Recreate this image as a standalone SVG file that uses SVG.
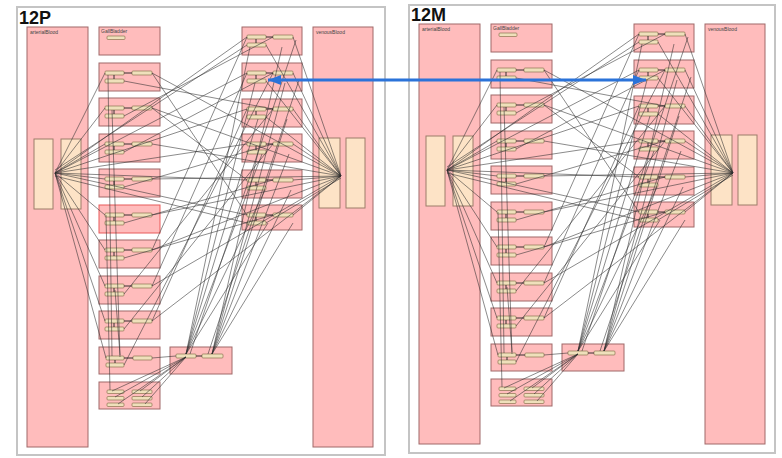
<svg xmlns="http://www.w3.org/2000/svg" width="782" height="458" viewBox="0 0 782 458">
<style>
.frame{fill:#fff;stroke:#c4c4c4;stroke-width:2}
.comp{fill:#ffbcbc;stroke:#a06868;stroke-width:1}
.hi{stroke:#e85a5a}
.big{fill:#fde3c6;stroke:#9c7c68;stroke-width:1}
.sm{fill:#efe0bb;stroke:#8c7250;stroke-width:0.7}
.lbl{font-family:"Liberation Sans",Arial,sans-serif;font-size:5px;fill:#444}
.title{font-family:"Liberation Sans",Arial,sans-serif;font-size:18px;font-weight:bold;fill:#111}
.cn{fill:none;stroke:#2e2e2e;stroke-width:0.7;stroke-opacity:0.8}
.cn2{fill:none;stroke:#222;stroke-width:0.9}
</style>
<defs>
<marker id="bluehead" markerUnits="userSpaceOnUse" markerWidth="13" markerHeight="10" viewBox="0 0 13 10" refX="13" refY="5" orient="auto-start-reverse">
<path d="M0,0 L13,5 L0,10 z" fill="#2b73d9"/>
</marker>
</defs>

<!-- ============ Panel 12P ============ -->
<g id="panel-12P">
<rect class="frame" x="17" y="7" width="368" height="448"/>
<text class="title" x="19" y="24">12P</text>
<g id="p-arterial"><rect class="comp" x="27" y="27" width="61" height="420"/><rect class="big" x="34" y="139" width="19" height="70"/><rect class="big" x="61" y="139" width="20" height="70"/><text class="lbl" x="30" y="34">arterialBlood</text></g>
<g id="p-venous"><rect class="comp" x="313" y="27" width="60" height="420"/><rect class="big" x="319" y="138" width="21" height="70"/><rect class="big" x="346" y="138" width="19" height="70"/><text class="lbl" x="316" y="34">venousBlood</text></g>
<g id="p-gall"><rect class="comp" x="99" y="27" width="61" height="28"/><rect class="sm" x="107" y="36" width="18" height="3.5" rx="1"/><text class="lbl" x="101" y="33">GallBladder</text></g>
<g id="p-m1"><rect class="comp" x="99" y="63" width="61" height="28"/><rect class="sm" x="105" y="71" width="19" height="4" rx="1"/><rect class="sm" x="132" y="71" width="20" height="4" rx="1"/><rect class="sm" x="105" y="79" width="19" height="4" rx="1"/></g>
<g id="p-m2"><rect class="comp" x="99" y="98" width="61" height="28"/><rect class="sm" x="105" y="106" width="19" height="4" rx="1"/><rect class="sm" x="132" y="106" width="20" height="4" rx="1"/><rect class="sm" x="105" y="114" width="19" height="4" rx="1"/></g>
<g id="p-m3"><rect class="comp" x="99" y="134" width="61" height="28"/><rect class="sm" x="105" y="142" width="19" height="4" rx="1"/><rect class="sm" x="132" y="142" width="20" height="4" rx="1"/><rect class="sm" x="105" y="150" width="19" height="4" rx="1"/></g>
<g id="p-m4"><rect class="comp" x="99" y="169" width="61" height="28"/><rect class="sm" x="105" y="177" width="19" height="4" rx="1"/><rect class="sm" x="132" y="177" width="20" height="4" rx="1"/><rect class="sm" x="105" y="185" width="19" height="4" rx="1"/></g>
<g id="p-m5"><rect class="comp hi" x="99" y="205" width="61" height="28"/><rect class="sm" x="105" y="213" width="19" height="4" rx="1"/><rect class="sm" x="132" y="213" width="20" height="4" rx="1"/><rect class="sm" x="105" y="221" width="19" height="4" rx="1"/></g>
<g id="p-m6"><rect class="comp" x="99" y="240" width="61" height="28"/><rect class="sm" x="105" y="248" width="19" height="4" rx="1"/><rect class="sm" x="132" y="248" width="20" height="4" rx="1"/><rect class="sm" x="105" y="256" width="19" height="4" rx="1"/></g>
<g id="p-m7"><rect class="comp" x="99" y="276" width="61" height="28"/><rect class="sm" x="105" y="284" width="19" height="4" rx="1"/><rect class="sm" x="132" y="284" width="20" height="4" rx="1"/><rect class="sm" x="105" y="292" width="19" height="4" rx="1"/></g>
<g id="p-m8"><rect class="comp" x="99" y="311" width="61" height="28"/><rect class="sm" x="105" y="319" width="19" height="4" rx="1"/><rect class="sm" x="132" y="319" width="20" height="4" rx="1"/><rect class="sm" x="105" y="327" width="19" height="4" rx="1"/></g>
<g id="p-m9"><rect class="comp" x="99" y="347" width="61" height="27"/><rect class="sm" x="106" y="356" width="18" height="4" rx="1"/><rect class="sm" x="133" y="356" width="19" height="4" rx="1"/><rect class="sm" x="106" y="363" width="18" height="4" rx="1"/></g>
<g id="p-m10"><rect class="comp" x="99" y="382" width="61" height="27"/><rect class="sm" x="107" y="390" width="17" height="3.5" rx="1"/><rect class="sm" x="132" y="390" width="20" height="3.5" rx="1"/><rect class="sm" x="107" y="396.5" width="17" height="3.5" rx="1"/><rect class="sm" x="132" y="396.5" width="20" height="3.5" rx="1"/><rect class="sm" x="107" y="403" width="17" height="3.5" rx="1"/><rect class="sm" x="132" y="403" width="20" height="3.5" rx="1"/></g>
<g id="p-portal"><rect class="comp" x="170" y="347" width="62" height="27"/><rect class="sm" x="176" y="354" width="20" height="4" rx="1"/><rect class="sm" x="202" y="354" width="21" height="4" rx="1"/></g>
<g id="p-r1"><rect class="comp" x="242" y="27" width="60" height="28"/><rect class="sm" x="247" y="35" width="19" height="4" rx="1"/><rect class="sm" x="273" y="35" width="20" height="4" rx="1"/><rect class="sm" x="247" y="43" width="19" height="4" rx="1"/></g>
<g id="p-r2"><rect class="comp" x="242" y="63" width="60" height="28"/><rect class="sm" x="247" y="71" width="19" height="4" rx="1"/><rect class="sm" x="273" y="71" width="20" height="4" rx="1"/><rect class="sm" x="247" y="79" width="19" height="4" rx="1"/></g>
<g id="p-r3"><rect class="comp" x="242" y="99" width="60" height="28"/><rect class="sm" x="247" y="107" width="19" height="4" rx="1"/><rect class="sm" x="273" y="107" width="20" height="4" rx="1"/><rect class="sm" x="247" y="115" width="19" height="4" rx="1"/></g>
<g id="p-r4"><rect class="comp" x="242" y="134" width="60" height="28"/><rect class="sm" x="247" y="142" width="19" height="4" rx="1"/><rect class="sm" x="273" y="142" width="20" height="4" rx="1"/><rect class="sm" x="247" y="150" width="19" height="4" rx="1"/></g>
<g id="p-r5"><rect class="comp" x="242" y="170" width="60" height="28"/><rect class="sm" x="247" y="178" width="19" height="4" rx="1"/><rect class="sm" x="273" y="178" width="20" height="4" rx="1"/><rect class="sm" x="247" y="186" width="19" height="4" rx="1"/></g>
<g id="p-r6"><rect class="comp" x="242" y="205" width="60" height="25"/><rect class="sm" x="247" y="213" width="19" height="4" rx="1"/><rect class="sm" x="273" y="213" width="20" height="4" rx="1"/><rect class="sm" x="247" y="221" width="19" height="4" rx="1"/></g>
<g id="p-connectors">
<path class="cn" d="M55 173L105 73M55 173L105 108M55 173L105 144M55 173L105 179M55 173L105 215M55 173L105 250M55 173L105 286M55 173L105 321M55 173L106 358M55 173L247 37M55 173L247 73M55 173L247 109M55 173L247 144M55 173L247 180M55 173L247 215M55 170L247 45M55 176L247 223"/>
<path class="cn" d="M152 73L341 176M152 108L341 176M152 144L341 176M152 179L341 176M152 215L341 176M152 250L341 176M152 286L341 176M152 321L341 176M293 37L341 176M293 73L341 176M293 109L341 176M293 144L341 176M293 180L341 176M293 215L341 176M266 45L341 176M266 81L341 176M266 117L341 176M266 223L341 178"/>
<path class="cn" d="M124 81L273 109M124 116L273 37M124 152L273 73M124 187L273 144M124 223L273 180M124 258L273 215M124 294L273 109M124 329L273 144M124 365L273 73M152 73L247 215M152 108L247 180M152 250L247 37M152 286L247 73M152 321L247 109"/>
<path class="cn" d="M186 354L250 47M186 354L255 83M186 354L258 119M186 354L262 154M186 354L265 190M186 354L268 223M212 354L282 47M212 354L285 83M212 354L287 119M212 354L289 154M212 354L291 190M212 354L293 223M190 354L296 40M208 354L299 80"/>
<path class="cn" d="M112 391L186 357M140 391L186 357M115 397L186 357M142 397L186 357M118 404L186 357M145 404L186 357M108 75L112 356M112 110L120 357M106 215L110 390M115 290L120 355M152 358L176 356"/>
<path class="cn2" d="M124 73L132 73M114 75L114 79M124 108L132 108M114 110L114 114M124 144L132 144M114 146L114 150M124 179L132 179M114 181L114 185M124 215L132 215M114 217L114 221M124 250L132 250M114 252L114 256M124 286L132 286M114 288L114 292M124 321L132 321M114 323L114 327M124 358L133 358M115 360L115 363M266 37L273 37M256 39L256 43M266 73L273 73M256 75L256 79M266 109L273 109M256 111L256 115M266 144L273 144M256 146L256 150M266 180L273 180M256 182L256 186M266 215L273 215M256 217L256 221M196 356L202 356"/>
</g>
</g>

<!-- ============ Panel 12M ============ -->
<g id="panel-12M" transform="translate(392,-3)">
<rect class="frame" x="17" y="8" width="366" height="448"/>
<text class="title" x="19" y="24">12M</text>
<g id="m-arterial"><rect class="comp" x="27" y="27" width="61" height="420"/><rect class="big" x="34" y="139" width="19" height="70"/><rect class="big" x="61" y="139" width="20" height="70"/><text class="lbl" x="30" y="34">arterialBlood</text></g>
<g id="m-venous"><rect class="comp" x="313" y="27" width="60" height="420"/><rect class="big" x="319" y="138" width="21" height="70"/><rect class="big" x="346" y="138" width="19" height="70"/><text class="lbl" x="316" y="34">venousBlood</text></g>
<g id="m-gall"><rect class="comp" x="99" y="27" width="61" height="28"/><rect class="sm" x="107" y="36" width="18" height="3.5" rx="1"/><text class="lbl" x="101" y="33">GallBladder</text></g>
<g id="m-m1"><rect class="comp" x="99" y="63" width="61" height="28"/><rect class="sm" x="105" y="71" width="19" height="4" rx="1"/><rect class="sm" x="132" y="71" width="20" height="4" rx="1"/><rect class="sm" x="105" y="79" width="19" height="4" rx="1"/></g>
<g id="m-m2"><rect class="comp" x="99" y="98" width="61" height="28"/><rect class="sm" x="105" y="106" width="19" height="4" rx="1"/><rect class="sm" x="132" y="106" width="20" height="4" rx="1"/><rect class="sm" x="105" y="114" width="19" height="4" rx="1"/></g>
<g id="m-m3"><rect class="comp" x="99" y="134" width="61" height="28"/><rect class="sm" x="105" y="142" width="19" height="4" rx="1"/><rect class="sm" x="132" y="142" width="20" height="4" rx="1"/><rect class="sm" x="105" y="150" width="19" height="4" rx="1"/></g>
<g id="m-m4"><rect class="comp" x="99" y="169" width="61" height="28"/><rect class="sm" x="105" y="177" width="19" height="4" rx="1"/><rect class="sm" x="132" y="177" width="20" height="4" rx="1"/><rect class="sm" x="105" y="185" width="19" height="4" rx="1"/></g>
<g id="m-m5"><rect class="comp" x="99" y="205" width="61" height="28"/><rect class="sm" x="105" y="213" width="19" height="4" rx="1"/><rect class="sm" x="132" y="213" width="20" height="4" rx="1"/><rect class="sm" x="105" y="221" width="19" height="4" rx="1"/></g>
<g id="m-m6"><rect class="comp" x="99" y="240" width="61" height="28"/><rect class="sm" x="105" y="248" width="19" height="4" rx="1"/><rect class="sm" x="132" y="248" width="20" height="4" rx="1"/><rect class="sm" x="105" y="256" width="19" height="4" rx="1"/></g>
<g id="m-m7"><rect class="comp" x="99" y="276" width="61" height="28"/><rect class="sm" x="105" y="284" width="19" height="4" rx="1"/><rect class="sm" x="132" y="284" width="20" height="4" rx="1"/><rect class="sm" x="105" y="292" width="19" height="4" rx="1"/></g>
<g id="m-m8"><rect class="comp" x="99" y="311" width="61" height="28"/><rect class="sm" x="105" y="319" width="19" height="4" rx="1"/><rect class="sm" x="132" y="319" width="20" height="4" rx="1"/><rect class="sm" x="105" y="327" width="19" height="4" rx="1"/></g>
<g id="m-m9"><rect class="comp" x="99" y="347" width="61" height="27"/><rect class="sm" x="106" y="356" width="18" height="4" rx="1"/><rect class="sm" x="133" y="356" width="19" height="4" rx="1"/><rect class="sm" x="106" y="363" width="18" height="4" rx="1"/></g>
<g id="m-m10"><rect class="comp" x="99" y="382" width="61" height="27"/><rect class="sm" x="107" y="390" width="17" height="3.5" rx="1"/><rect class="sm" x="132" y="390" width="20" height="3.5" rx="1"/><rect class="sm" x="107" y="396.5" width="17" height="3.5" rx="1"/><rect class="sm" x="132" y="396.5" width="20" height="3.5" rx="1"/><rect class="sm" x="107" y="403" width="17" height="3.5" rx="1"/><rect class="sm" x="132" y="403" width="20" height="3.5" rx="1"/></g>
<g id="m-portal"><rect class="comp" x="170" y="347" width="62" height="27"/><rect class="sm" x="176" y="354" width="20" height="4" rx="1"/><rect class="sm" x="202" y="354" width="21" height="4" rx="1"/></g>
<g id="m-r1"><rect class="comp" x="242" y="27" width="60" height="28"/><rect class="sm" x="247" y="35" width="19" height="4" rx="1"/><rect class="sm" x="273" y="35" width="20" height="4" rx="1"/><rect class="sm" x="247" y="43" width="19" height="4" rx="1"/></g>
<g id="m-r2"><rect class="comp" x="242" y="63" width="60" height="28"/><rect class="sm" x="247" y="71" width="19" height="4" rx="1"/><rect class="sm" x="273" y="71" width="20" height="4" rx="1"/><rect class="sm" x="247" y="79" width="19" height="4" rx="1"/></g>
<g id="m-r3"><rect class="comp" x="242" y="99" width="60" height="28"/><rect class="sm" x="247" y="107" width="19" height="4" rx="1"/><rect class="sm" x="273" y="107" width="20" height="4" rx="1"/><rect class="sm" x="247" y="115" width="19" height="4" rx="1"/></g>
<g id="m-r4"><rect class="comp" x="242" y="134" width="60" height="28"/><rect class="sm" x="247" y="142" width="19" height="4" rx="1"/><rect class="sm" x="273" y="142" width="20" height="4" rx="1"/><rect class="sm" x="247" y="150" width="19" height="4" rx="1"/></g>
<g id="m-r5"><rect class="comp" x="242" y="170" width="60" height="28"/><rect class="sm" x="247" y="178" width="19" height="4" rx="1"/><rect class="sm" x="273" y="178" width="20" height="4" rx="1"/><rect class="sm" x="247" y="186" width="19" height="4" rx="1"/></g>
<g id="m-r6"><rect class="comp" x="242" y="205" width="60" height="25"/><rect class="sm" x="247" y="213" width="19" height="4" rx="1"/><rect class="sm" x="273" y="213" width="20" height="4" rx="1"/><rect class="sm" x="247" y="221" width="19" height="4" rx="1"/></g>
<g id="m-connectors">
<path class="cn" d="M55 173L105 73M55 173L105 108M55 173L105 144M55 173L105 179M55 173L105 215M55 173L105 250M55 173L105 286M55 173L105 321M55 173L106 358M55 173L247 37M55 173L247 73M55 173L247 109M55 173L247 144M55 173L247 180M55 173L247 215M55 170L247 45M55 176L247 223"/>
<path class="cn" d="M152 73L341 176M152 108L341 176M152 144L341 176M152 179L341 176M152 215L341 176M152 250L341 176M152 286L341 176M152 321L341 176M293 37L341 176M293 73L341 176M293 109L341 176M293 144L341 176M293 180L341 176M293 215L341 176M266 45L341 176M266 81L341 176M266 117L341 176M266 223L341 178"/>
<path class="cn" d="M124 81L273 109M124 116L273 37M124 152L273 73M124 187L273 144M124 223L273 180M124 258L273 215M124 294L273 109M124 329L273 144M124 365L273 73M152 73L247 215M152 108L247 180M152 250L247 37M152 286L247 73M152 321L247 109"/>
<path class="cn" d="M186 354L250 47M186 354L255 83M186 354L258 119M186 354L262 154M186 354L265 190M186 354L268 223M212 354L282 47M212 354L285 83M212 354L287 119M212 354L289 154M212 354L291 190M212 354L293 223M190 354L296 40M208 354L299 80"/>
<path class="cn" d="M112 391L186 357M140 391L186 357M115 397L186 357M142 397L186 357M118 404L186 357M145 404L186 357M108 75L112 356M112 110L120 357M106 215L110 390M115 290L120 355M152 358L176 356"/>
<path class="cn2" d="M124 73L132 73M114 75L114 79M124 108L132 108M114 110L114 114M124 144L132 144M114 146L114 150M124 179L132 179M114 181L114 185M124 215L132 215M114 217L114 221M124 250L132 250M114 252L114 256M124 286L132 286M114 288L114 292M124 321L132 321M114 323L114 327M124 358L133 358M115 360L115 363M266 37L273 37M256 39L256 43M266 73L273 73M256 75L256 79M266 109L273 109M256 111L256 115M266 144L273 144M256 146L256 150M266 180L273 180M256 182L256 186M266 215L273 215M256 217L256 221M196 356L202 356"/>
</g>
</g>

<!-- ============ Cross-panel link ============ -->
<g id="link">
<line x1="268" y1="80" x2="646" y2="80" stroke="#2b73d9" stroke-width="3" marker-start="url(#bluehead)" marker-end="url(#bluehead)"/>
</g>
</svg>
